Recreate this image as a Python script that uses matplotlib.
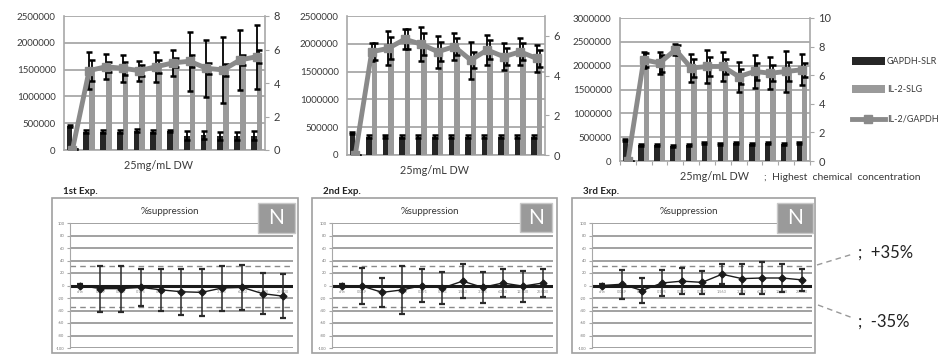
import matplotlib
import matplotlib.pyplot as plt
import numpy as np
from matplotlib.patches import Rectangle
from matplotlib.lines import Line2D

matplotlib.use('Agg')

W, H = 945, 355
plt.rcParams['font.family'] = ['Lato', 'DejaVu Sans']

# ---- top panels: GAPDH-SLR / IL-2-SLG bars (left axis), IL-2/GAPDH ratio (right axis)
gapdh_1 = [450000, 345000, 345000, 345000, 360000, 345000, 350000, 270000, 280000, 260000, 260000, 270000]
gapdh_1_err = [20000, 35000, 35000, 35000, 30000, 35000, 20000, 80000, 70000, 80000, 70000, 80000]
il2_1 = [10000, 1480000, 1550000, 1520000, 1480000, 1550000, 1630000, 1660000, 1520000, 1490000, 1680000, 1740000]
il2_1_err = [0, 200000, 100000, 130000, 100000, 120000, 90000, 120000, 110000, 110000, 100000, 120000]
ratio_1 = [0, 4.74, 4.97, 4.88, 4.74, 4.97, 5.2, 5.3, 4.88, 4.78, 5.37, 5.57]
ratio_1_err = [0, 1.1, 0.75, 0.8, 0.6, 0.9, 0.8, 1.75, 1.7, 1.95, 1.8, 1.9]

gapdh_2 = [400000, 330000, 335000, 330000, 330000, 330000, 330000, 330000, 330000, 330000, 330000, 330000]
gapdh_2_err = [20000, 25000, 30000, 30000, 25000, 25000, 25000, 25000, 25000, 25000, 25000, 25000]
il2_2 = [0, 1860000, 1920000, 2080000, 1990000, 1860000, 1950000, 1710000, 1890000, 1770000, 1860000, 1740000]
il2_2_err = [0, 150000, 200000, 180000, 200000, 170000, 150000, 150000, 170000, 150000, 150000, 150000]
ratio_2 = [0, 5.2, 5.37, 5.83, 5.58, 5.2, 5.46, 4.78, 5.29, 4.95, 5.2, 4.86]
ratio_2_err = [0, 0.45, 0.85, 0.5, 0.85, 0.8, 0.68, 0.93, 0.75, 0.68, 0.68, 0.68]

gapdh_3 = [440000, 337000, 337000, 320000, 345000, 370000, 350000, 370000, 360000, 370000, 360000, 370000]
gapdh_3_err = [30000, 20000, 20000, 20000, 20000, 20000, 20000, 20000, 20000, 20000, 20000, 20000]
il2_3 = [0, 2120000, 2050000, 2330000, 1950000, 1980000, 1980000, 1770000, 1880000, 1840000, 1880000, 1910000]
il2_3_err = [0, 150000, 180000, 100000, 180000, 200000, 150000, 150000, 180000, 170000, 200000, 150000]
ratio_3 = [0, 7.08, 6.85, 7.78, 6.5, 6.61, 6.61, 5.9, 6.26, 6.14, 6.26, 6.38]
ratio_3_err = [0, 0.55, 0.75, 0.4, 1.0, 1.17, 1.0, 1.05, 1.17, 1.12, 1.4, 1.1]

# ---- bottom panels: % suppression
conc_labels = ['d/w', '0.049', '0.098', '0.195', '0.391', '0.781', '1.563', '3.125', '6.250', '12.500', '25.000']
supp_1 = [0, -5, -5, -3, -7, -10, -11, -4, -3, -13, -17]
supp_1_err = [2, 37, 37, 30, 34, 37, 38, 36, 36, 33, 35]
supp_2 = [0, -1, -11, -7, 0, -4, 7, -3, 4, -1, 4]
supp_2_err = [2, 29, 23, 38, 27, 25, 27, 25, 22, 25, 22]
supp_3 = [0, 2, -8, 4, 7, 5, 18, 11, 12, 12, 9]
supp_3_err = [2, 23, 20, 21, 21, 18, 16, 24, 25, 23, 17]
upper_limit = 32
lower_limit = -35

DARK = '#262626'
BAR_GRAY = '#9a9a9a'
LINE_GRAY = '#8a8a8a'
GRID = '#a8a8a8'
TXT = '#3a3a3a'


def px_rect(x0, y0, x1, y1):
    return [x0 / W, 1 - y1 / H, (x1 - x0) / W, (y1 - y0) / H]


def fx(x):
    return x / W


def fy(y):
    return 1 - y / H


def draw_top(fig, rect, gapdh, gapdh_err, il2, il2_err, ratio, ratio_err,
             left_max, right_max, right_ticks, cat_ticks=False):
    ax = fig.add_axes(px_rect(*rect))
    x = np.arange(len(gapdh))
    ekw = dict(ecolor='black', capsize=2.5, elinewidth=1.3, capthick=1.8)
    ax.bar(x - 0.17, gapdh, 0.34, color=DARK, yerr=gapdh_err, error_kw=ekw, zorder=3)
    ax.bar(x + 0.17, il2, 0.34, color=BAR_GRAY, yerr=il2_err, error_kw=ekw, zorder=3)
    ax.set_xlim(-0.5, len(gapdh) - 0.5)
    ax.set_ylim(0, left_max)
    ax.set_yticks(np.arange(0, left_max + 1, 500000))
    ax.set_yticklabels([str(int(v)) for v in np.arange(0, left_max + 1, 500000)])
    ax.tick_params(axis='y', length=0, labelsize=7, labelcolor=TXT, pad=6)
    ax.grid(axis='y', color=GRID, lw=1.3, zorder=0)
    ax.set_axisbelow(True)
    if cat_ticks:
        ax.set_xticks(np.arange(-0.5, len(gapdh), 1))
        ax.tick_params(axis='x', length=3, color=GRID, labelbottom=False)
    else:
        ax.set_xticks([])
    for s in ['top', 'right']:
        ax.spines[s].set_visible(False)
    for s in ['left', 'bottom']:
        ax.spines[s].set_color(GRID)
        ax.spines[s].set_linewidth(1.2)

    ax2 = ax.twinx()
    ax2.errorbar(x, ratio, yerr=ratio_err, color=LINE_GRAY, lw=3.5, marker='s', ms=6,
                 mfc=LINE_GRAY, mec=LINE_GRAY, ecolor='black', elinewidth=1.3,
                 capsize=2.5, capthick=1.8, zorder=5)
    ax2.set_ylim(0, right_max)
    ax2.set_yticks(right_ticks)
    ax2.tick_params(axis='y', length=3, color=GRID, labelsize=8, labelcolor=TXT, pad=3)
    for s in ['top', 'left', 'bottom']:
        ax2.spines[s].set_visible(False)
    ax2.spines['right'].set_color(GRID)
    ax2.spines['right'].set_linewidth(1.2)
    return ax, ax2


def draw_bottom(fig, box, plot, n_box, exp_label, vals, errs):
    x0, y0, x1, y1 = box
    fig.add_artist(Rectangle((fx(x0), fy(y1)), fx(x1 - x0), (y1 - y0) / H,
                             transform=fig.transFigure, facecolor='white',
                             edgecolor='#a0a0a0', lw=1.2, zorder=0))
    fig.text(fx(x0 + 11), fy(y0 - 6), exp_label, fontsize=7, fontweight='bold',
             color='#222222', va='center', ha='left')
    fig.text(fx((x0 + x1) / 2 - 5), fy(y0 + 14), '%suppression', fontsize=7,
             color='#333333', ha='center', va='center')

    ax = fig.add_axes(px_rect(*plot))
    xs = np.arange(len(vals))
    ax.set_xlim(-0.5, len(vals) - 0.5)
    ax.set_ylim(-100, 100)
    ax.set_yticks(np.arange(-100, 101, 20))
    ax.set_yticklabels([str(v) for v in range(-100, 101, 20)])
    ax.tick_params(axis='y', length=2, color=GRID, labelsize=3, labelcolor='#777777', pad=2)
    ax.set_xticks([])
    ax.grid(axis='y', color='#9a9a9a', lw=1.3)
    ax.set_axisbelow(True)
    ax.patch.set_alpha(0)
    for s in ['top', 'right', 'bottom']:
        ax.spines[s].set_visible(False)
    ax.spines['left'].set_color(GRID)
    ax.axhline(0, color='#1a1a1a', lw=2.2, zorder=2)
    ax.axhline(upper_limit, color='#8a8a8a', lw=1, ls=(0, (4, 3)), zorder=2)
    ax.axhline(lower_limit, color='#8a8a8a', lw=1, ls=(0, (4, 3)), zorder=2)
    for i, lab in enumerate(conc_labels):
        ax.text(i, -10, lab, fontsize=2.8, color='#888888', ha='center', va='center')
    ax.errorbar(xs, vals, yerr=errs, color='#1a1a1a', lw=1, marker='D', ms=3.5,
                ecolor='#2a2a2a', elinewidth=1.1, capsize=2.5, capthick=1.6, zorder=4)

    nx0, ny0, nx1, ny1 = n_box
    fig.add_artist(Rectangle((fx(nx0), fy(ny1)), fx(nx1 - nx0), (ny1 - ny0) / H,
                             transform=fig.transFigure, facecolor='#9a9a9a',
                             edgecolor='#c8c8c8', lw=1, zorder=10))
    fig.text(fx((nx0 + nx1) / 2), fy((ny0 + ny1) / 2), 'N', fontsize=15, color='white',
             ha='center', va='center', zorder=11)


fig = plt.figure(figsize=(W / 100, H / 100), dpi=100)

draw_top(fig, (64, 16, 265, 150), gapdh_1, gapdh_1_err, il2_1, il2_1_err,
         ratio_1, ratio_1_err, 2500000, 8, [0, 2, 4, 6, 8])
draw_top(fig, (347, 16, 545, 155), gapdh_2, gapdh_2_err, il2_2, il2_2_err,
         ratio_2, ratio_2_err, 2500000, 7, [0, 2, 4, 6])
draw_top(fig, (620, 18, 810, 161), gapdh_3, gapdh_3_err, il2_3, il2_3_err,
         ratio_3, ratio_3_err, 3000000, 10, [0, 2, 4, 6, 8, 10], cat_ticks=True)

fig.text(fx(158), fy(165), '25mg/mL DW', fontsize=7.8, color=TXT, ha='center', va='center')
fig.text(fx(435), fy(171), '25mg/mL DW', fontsize=7.8, color=TXT, ha='center', va='center')
fig.text(fx(680), fy(177), '25mg/mL DW', fontsize=7.8, color=TXT, ha='left', va='center')
fig.text(fx(764), fy(177), ';  Highest  chemical  concentration', fontsize=7.5, color=TXT,
         ha='left', va='center')

# legend
fig.add_artist(Rectangle((fx(852), fy(65)), fx(33), 8 / H, transform=fig.transFigure,
                         facecolor=DARK, edgecolor='none'))
fig.add_artist(Rectangle((fx(852), fy(93)), fx(33), 8 / H, transform=fig.transFigure,
                         facecolor=BAR_GRAY, edgecolor='none'))
fig.add_artist(Line2D([fx(852), fx(885)], [fy(119), fy(119)], transform=fig.transFigure,
                      color=LINE_GRAY, lw=3.5))
fig.add_artist(Line2D([fx(868.5)], [fy(119)], transform=fig.transFigure,
                      color=LINE_GRAY, marker='s', ms=6, lw=0))
for yy, lab in [(61, 'GAPDH-SLR'), (89, 'IL-2-SLG'), (119, 'IL-2/GAPDH')]:
    fig.text(fx(887), fy(yy), lab, fontsize=6.5, color=TXT, ha='left', va='center')

draw_bottom(fig, (52, 198, 298, 353), (70, 223, 293, 348), (258, 203, 295, 233),
            '1st Exp.', supp_1, supp_1_err)
draw_bottom(fig, (312, 198, 557, 353), (332, 223, 553, 348), (520, 203, 552, 232),
            '2nd Exp.', supp_2, supp_2_err)
draw_bottom(fig, (572, 198, 815, 353), (592, 223, 812, 348), (777, 203, 813, 233),
            '3rd Exp.', supp_3, supp_3_err)

# limit annotations
fig.add_artist(Line2D([fx(817), fx(853)], [fy(265), fy(254)], transform=fig.transFigure,
                      color='#999999', lw=1, ls=(0, (4, 3))))
fig.add_artist(Line2D([fx(818), fx(853)], [fy(305), fy(318)], transform=fig.transFigure,
                      color='#999999', lw=1, ls=(0, (4, 3))))
fig.text(fx(858), fy(253), ';  +35%', fontsize=12, color='#222222', ha='left', va='center')
fig.text(fx(858), fy(322), ';  -35%', fontsize=12, color='#222222', ha='left', va='center')

fig.savefig('out.png', dpi=100)
